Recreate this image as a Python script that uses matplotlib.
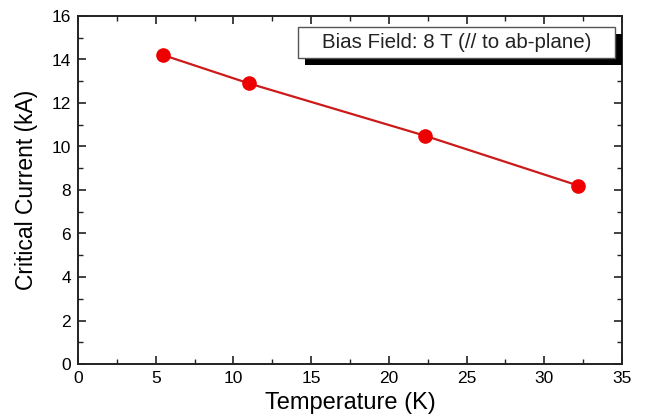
import matplotlib
matplotlib.use("Agg")
import matplotlib.pyplot as plt
from matplotlib.ticker import MultipleLocator
from matplotlib.patches import Rectangle

plt.rcParams['font.family'] = ['Liberation Sans', 'DejaVu Sans']

# critical current vs temperature at 8 T bias field
temperature = [5.5, 11.0, 22.3, 32.2]
current = [14.2, 12.9, 10.5, 8.2]

fig = plt.figure(figsize=(6.46, 4.19), dpi=100)
ax = fig.add_axes([78/646, 1 - 364/419, 544/646, 348/419])

ax.plot(temperature, current, color='#cc1a1a', lw=1.6, zorder=2)
ax.plot(temperature, current, 'o', color='#ee0000', ms=9.5, mec='#ee0000', zorder=3)

ax.set_xlim(0, 35)
ax.set_ylim(0, 16)
ax.xaxis.set_major_locator(MultipleLocator(5))
ax.xaxis.set_minor_locator(MultipleLocator(2.5))
ax.yaxis.set_major_locator(MultipleLocator(2))
ax.yaxis.set_minor_locator(MultipleLocator(1))
ax.tick_params(which='both', direction='in', top=True, right=True, labelsize=12.5, color='#222222')
ax.tick_params(which='major', length=6, width=1.2, pad=5)
ax.tick_params(which='minor', length=3.5, width=1.0)
for s in ax.spines.values():
    s.set_linewidth(1.4)
    s.set_color('#222222')

ax.set_xlabel('Temperature (K)', fontsize=17, labelpad=4)
ax.set_ylabel('Critical Current (kA)', fontsize=16.5, labelpad=10)

# boxed caption with a solid drop shadow
bx0, by0, bw, bh = 0.404, 0.879, 0.583, 0.089
ax.add_patch(Rectangle((bx0 + 0.013, by0 - 0.02), bw, bh, transform=ax.transAxes,
                       fc='black', ec='none', zorder=4))
ax.add_patch(Rectangle((bx0, by0), bw, bh, transform=ax.transAxes,
                       fc='white', ec='#555555', lw=1.0, zorder=5))
ax.text(bx0 + bw / 2, by0 + bh / 2, 'Bias Field: 8 T (// to ab-plane)', transform=ax.transAxes,
        ha='center', va='center', fontsize=14.8, color='#222222', zorder=6)

fig.savefig('out.png', dpi=100)
